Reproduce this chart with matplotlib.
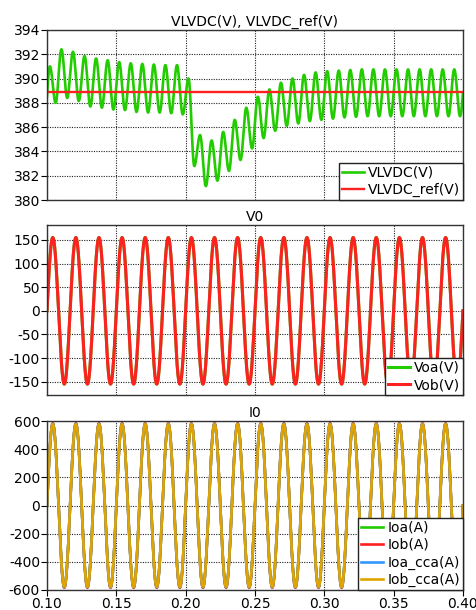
import numpy as np
import matplotlib
matplotlib.use("Agg")
import matplotlib.pyplot as plt

# time window (s)
t_start = 0.10
t_end = 0.40
x_ticks = [0.10, 0.15, 0.20, 0.25, 0.30, 0.35, 0.40]

# DC link voltage: 120 Hz ripple, value at each ripple extremum (peak/trough alternating)
ripple_hz = 120
vdc_start = 388.5
vdc_end = 388.8
vdc_extrema = [
    391.0, 388.0, 392.4, 388.4, 392.2, 388.15, 391.85, 387.7, 391.65, 387.6,
    391.5, 387.45, 391.35, 387.4, 391.25, 387.25, 391.2, 387.2, 391.15, 387.2,
    391.1, 387.15, 391.1, 387.05, 390.0,
    382.8, 385.35, 381.15, 384.9, 381.6, 385.6, 382.4, 386.6, 383.3, 387.6,
    384.25, 388.5, 385.1, 389.1, 385.7, 389.65,
    386.1, 390.0, 386.3, 390.3, 386.5, 390.5, 386.6, 390.6, 386.7, 390.65,
    386.8, 390.7, 386.85, 390.75, 386.9, 390.75, 386.9,
    390.75, 386.9, 390.75, 386.9, 390.75, 386.9, 390.75, 386.9, 390.75, 386.9,
    390.75, 386.9, 390.75, 386.9,
]
vdc_ref = 388.9

# output voltages / currents: 60 Hz sine peaks
line_hz = 60
vo_names = ["Voa(V)", "Vob(V)"]
vo_peaks = [155, 155]
io_names = ["Ioa(A)", "Iob(A)", "Ioa_cca(A)", "Iob_cca(A)"]
io_peaks = [580, 584, 580, 578]

green = "#22cc00"
red = "#ff2020"
blue = "#3399ff"
gold = "#e0a400"

# build the DC ripple waveform through the read extrema
T = 1.0 / ripple_hz
kt = [t_start] + [t_start + T / 4 + k * T / 2 for k in range(len(vdc_extrema))] + [t_end]
kv = [vdc_start] + vdc_extrema + [vdc_end]
kt = np.array(kt)
kv = np.array(kv)
t = np.linspace(t_start, t_end, 8001)
seg = np.clip(np.searchsorted(kt, t, side="right") - 1, 0, len(kt) - 2)
s = (t - kt[seg]) / (kt[seg + 1] - kt[seg])
shape = (1 - np.cos(np.pi * s)) / 2
shape[seg == 0] = np.sin(np.pi / 2 * s[seg == 0])
last = seg == len(kt) - 2
shape[last] = 1 - np.cos(np.pi / 2 * s[last])
vdc = kv[seg] + (kv[seg + 1] - kv[seg]) * shape

wave = np.sin(2 * np.pi * line_hz * (t - t_start))

plt.rcParams["font.family"] = "DejaVu Sans"
plt.rcParams["font.size"] = 10
plt.rcParams["axes.unicode_minus"] = False

fig = plt.figure(figsize=(4.77, 6.10), dpi=100)
ax1 = fig.add_axes([0.0985, 0.672, 0.872, 0.279])
ax2 = fig.add_axes([0.0985, 0.3525, 0.872, 0.279])
ax3 = fig.add_axes([0.0985, 0.0328, 0.872, 0.277])

ax1.plot(t, vdc, color=green, lw=1.9, label="VLVDC(V)")
ax1.plot([t_start, t_end], [vdc_ref, vdc_ref], color=red, lw=1.7, label="VLVDC_ref(V)")
ax1.set_ylim(380, 394)
ax1.set_yticks(range(380, 395, 2))
ax1.set_title("VLVDC(V), VLVDC_ref(V)", fontsize=10, pad=3)

for name, pk, c in zip(vo_names, vo_peaks, [green, red]):
    ax2.plot(t, pk * wave, color=c, lw=2.2, label=name)
ax2.set_ylim(-178, 182)
ax2.set_yticks(range(-150, 151, 50))
ax2.set_title("V0", fontsize=10, pad=3)

for name, pk, c in zip(io_names, io_peaks, [green, red, blue, gold]):
    ax3.plot(t, pk * wave, color=c, lw=1.9, label=name)
ax3.set_ylim(-600, 600)
ax3.set_yticks(range(-600, 601, 200))
ax3.set_title("I0", fontsize=10, pad=3)

for ax in (ax1, ax2, ax3):
    ax.set_xlim(t_start, t_end)
    ax.set_xticks(x_ticks)
    ax.grid(True, color="#222222", lw=0.8, linestyle=(0, (1, 1.2)))
    ax.tick_params(direction="out", length=4, width=0.8, labelsize=10, pad=1)
    for sp in ax.spines.values():
        sp.set_color("#333333")
        sp.set_linewidth(1.0)
    leg = ax.legend(loc="lower right", borderaxespad=0, fancybox=False,
                    framealpha=1, edgecolor="#222222", fontsize=10,
                    handlelength=1.6, handletextpad=0.3, labelspacing=0.25,
                    borderpad=0.2)
    leg.get_frame().set_linewidth(1.0)

ax1.tick_params(axis="x", labelbottom=False, length=0)
ax2.tick_params(axis="x", labelbottom=False, length=0)
ax3.set_xticklabels(["%.2f" % v for v in x_ticks])

plt.savefig("out.png", dpi=100)
